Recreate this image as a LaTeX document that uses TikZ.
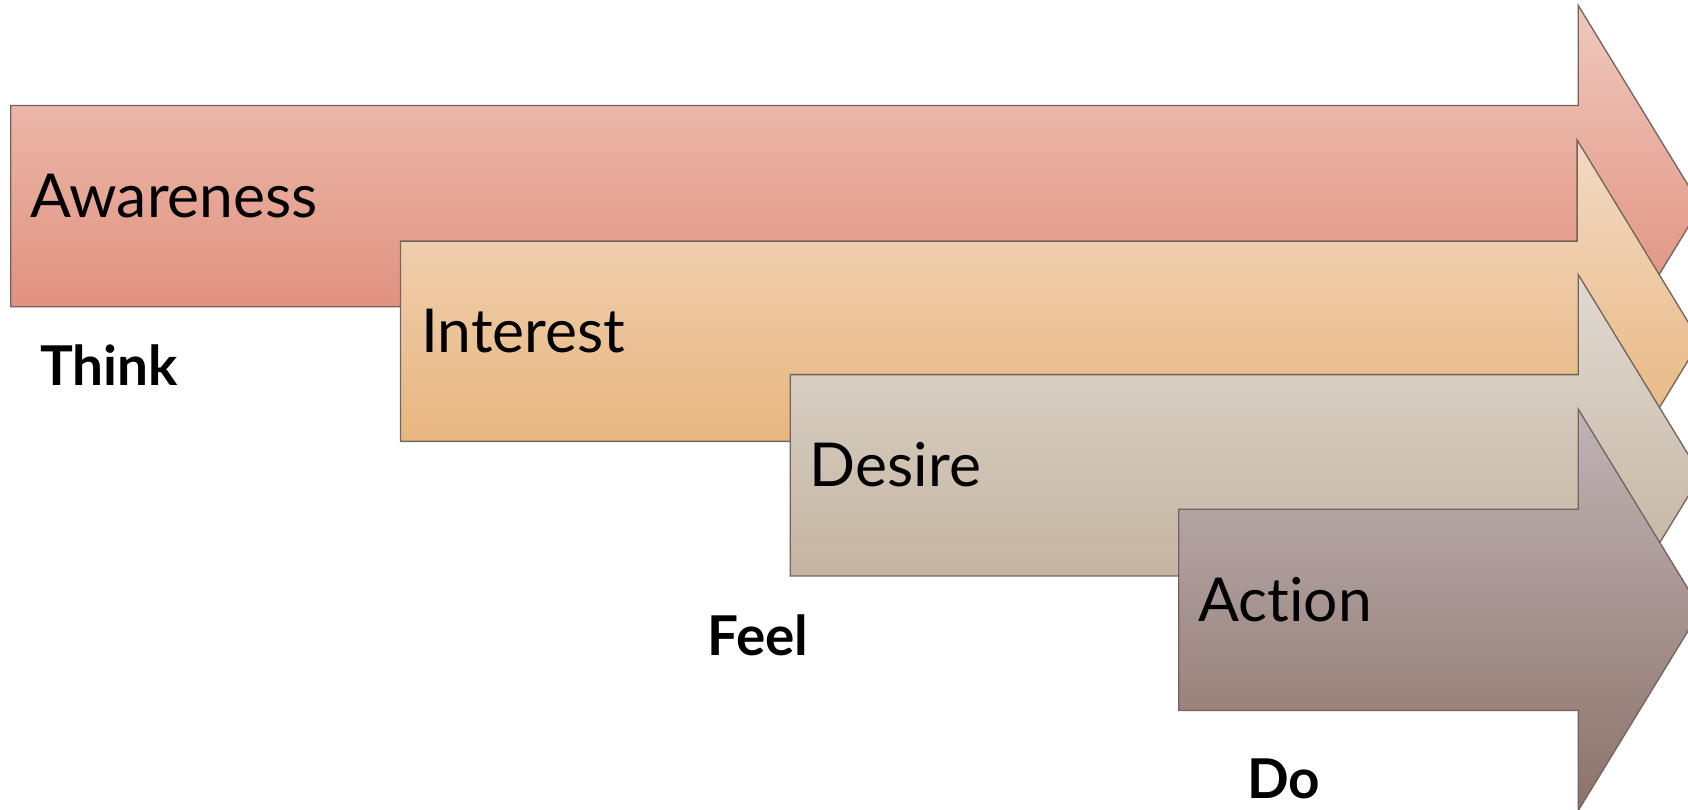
\documentclass[tikz,border=0pt]{standalone}
\usepackage{fontspec}
\setmainfont[Ligatures={NoCommon}]{Lato}
\usepackage{tikz}
\usetikzlibrary{calc}

\definecolor{awaretop}{RGB}{240,200,190}
\definecolor{awarebot}{RGB}{220,128,105}
\definecolor{intertop}{RGB}{243,218,195}
\definecolor{interbot}{RGB}{228,170,105}
\definecolor{desiretop}{RGB}{224,218,210}
\definecolor{desirebot}{RGB}{188,168,145}
\definecolor{actiontop}{RGB}{192,180,182}
\definecolor{actionbot}{RGB}{140,115,105}
\definecolor{edge}{RGB}{115,100,92}

\tikzset{
  stage/.style={draw=edge,line width=0.7pt,line join=miter},
  stagelabel/.style={inner sep=0pt,anchor=base west,font=\fontsize{32}{35}\selectfont},
  modelabel/.style={inner sep=0pt,anchor=base west,font=\fontsize{29}{32}\selectfont\bfseries}
}

\begin{document}
\begin{tikzpicture}[x=0.2mm,y=-0.2mm]
  \useasboundingbox (0,0) rectangle (1568,752);
  \clip (0,0) rectangle (1568,752);
  % awareness
  \path[stage,top color=awaretop,bottom color=awarebot]
    (10,98) -- (1466,98) -- (1466,5) -- (1580,191.5) -- (1466,378)
    -- (1466,285) -- (10,285) -- cycle;
  \node[stagelabel] (aware) at (28,202) {Awareness};
  % interest
  \path[stage,top color=intertop,bottom color=interbot]
    (372,224) -- (1465,224) -- (1465,130) -- (1579,317) -- (1465,504)
    -- (1465,410) -- (372,410) -- cycle;
  \node[stagelabel] (inter) at (391,327) {Interest};
  % desire
  \path[stage,top color=desiretop,bottom color=desirebot]
    (734,348) -- (1466,348) -- (1466,255) -- (1580,441.5) -- (1466,628)
    -- (1466,535) -- (734,535) -- cycle;
  \node[stagelabel] (desire) at (752,452) {Desire};
  % action
  \path[stage,top color=actiontop,bottom color=actionbot]
    (1095,473) -- (1466,473) -- (1466,380) -- (1580,566.5) -- (1466,753)
    -- (1466,660) -- (1095,660) -- cycle;
  \node[stagelabel] (action) at (1113,577) {Action};
  % think / feel / do
  \node[modelabel] (think) at (37,358) {Think};
  \node[modelabel] (feel) at (657,609) {Feel};
  \node[modelabel] (do) at (1158,742) {Do};
\end{tikzpicture}
\end{document}
